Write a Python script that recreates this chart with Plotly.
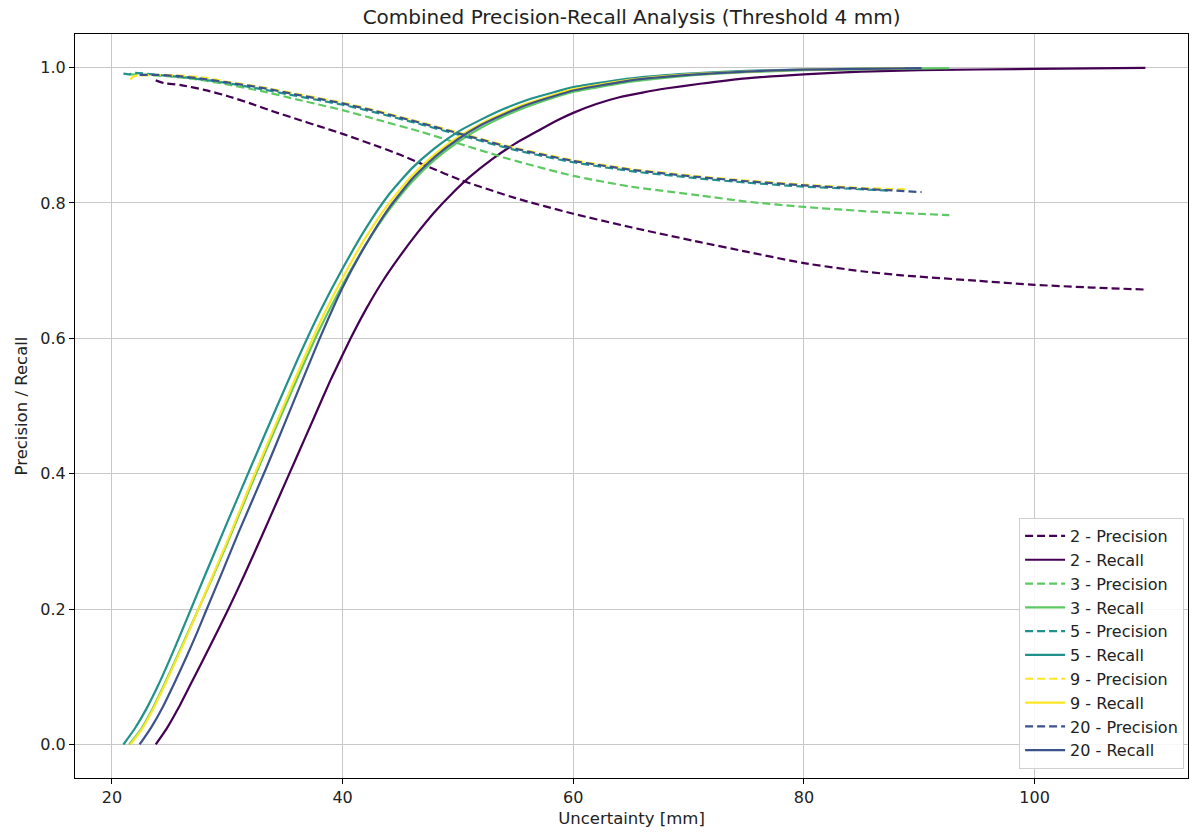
import plotly.graph_objects as go

# ---- data ----
series_names = ["2", "3", "5", "9", "20"]
series_colors = ["#440154", "#5ec962", "#21918c", "#fde725", "#3b528b"]

# Precision curves
prec_x_2 = [23.8, 24.5, 26, 28, 30, 32, 34, 36, 38, 40, 43.3, 45, 47.5, 50.2, 55, 60, 65, 71, 75, 80, 85, 88.5, 95, 100, 105, 109.6]
prec_y_2 = [0.981, 0.977, 0.974, 0.967, 0.958, 0.947, 0.935, 0.924, 0.913, 0.902, 0.882, 0.871, 0.853, 0.834, 0.807, 0.784, 0.764, 0.742, 0.728, 0.711, 0.699, 0.693, 0.685, 0.679, 0.675, 0.672]

prec_x_3 = [21.5, 23, 25, 28, 30, 33, 36, 40, 43, 46.8, 50.2, 55, 60, 65, 71, 75, 80, 86, 92.6]
prec_y_3 = [0.990, 0.989, 0.987, 0.981, 0.975, 0.965, 0.953, 0.937, 0.923, 0.905, 0.887, 0.862, 0.840, 0.824, 0.811, 0.802, 0.794, 0.787, 0.782]

prec_x_5 = [21.0, 21.5, 22, 24, 26, 28, 30, 33, 36, 40, 43, 46.8, 50.2, 55, 60, 65, 71, 75, 80, 84, 87.5]
prec_y_5 = [0.991, 0.990, 0.992, 0.989, 0.986, 0.982, 0.977, 0.968, 0.958, 0.945, 0.933, 0.916, 0.900, 0.878, 0.860, 0.847, 0.836, 0.830, 0.824, 0.821, 0.818]

prec_x_9 = [21.6, 21.8, 22.2, 24, 26, 28, 30, 33, 36, 40, 43, 46.8, 50.2, 55, 60, 65, 71, 75, 80, 85, 88.8]
prec_y_9 = [0.982, 0.986, 0.988, 0.989, 0.988, 0.985, 0.979, 0.971, 0.961, 0.948, 0.936, 0.919, 0.903, 0.881, 0.863, 0.850, 0.839, 0.833, 0.827, 0.822, 0.820]

prec_x_20 = [22.4, 24, 26, 28, 30, 33, 36, 40, 43, 46.8, 50.2, 55, 60, 65, 71, 75, 80, 85, 90.2]
prec_y_20 = [0.989, 0.989, 0.987, 0.983, 0.978, 0.970, 0.960, 0.947, 0.935, 0.918, 0.902, 0.880, 0.862, 0.849, 0.838, 0.832, 0.826, 0.821, 0.816]

# Recall curves
rec_x_2 = [23.8, 24.8, 25.8, 27, 28.5, 30.1, 31.5, 33, 34.5, 36, 37.5, 39, 40.7, 42, 43.5, 45, 46.5, 48, 49.5, 51, 53, 55, 57, 58.5, 60, 62, 64, 66, 68, 71, 75, 80, 85, 90, 100, 109.6]
rec_y_2 = [0.0, 0.025, 0.055, 0.095, 0.145, 0.200, 0.251, 0.308, 0.366, 0.424, 0.482, 0.540, 0.600, 0.642, 0.685, 0.722, 0.756, 0.787, 0.814, 0.838, 0.865, 0.888, 0.907, 0.921, 0.933, 0.946, 0.956, 0.963, 0.969, 0.976, 0.984, 0.990, 0.994, 0.996, 0.998, 0.9995]

rec_x_3 = [21.5, 22.5, 23.5, 24.5, 25.5, 26.5, 27.5, 28.5, 30, 32, 34, 36, 38, 40, 42, 44, 46, 48, 50, 52, 54, 56, 58, 60, 65, 70, 75, 80, 92.6]
rec_y_3 = [0.0, 0.022, 0.052, 0.087, 0.124, 0.162, 0.200, 0.238, 0.297, 0.380, 0.460, 0.538, 0.613, 0.679, 0.738, 0.789, 0.831, 0.864, 0.890, 0.911, 0.928, 0.942, 0.954, 0.964, 0.979, 0.988, 0.993, 0.996, 0.999]

rec_x_5 = [21.0, 22, 23, 24, 25, 26, 27, 28, 30, 32, 34, 36, 38, 40, 42, 44, 46, 48, 50, 52, 54, 56, 58, 60, 65, 70, 75, 80, 87.5]
rec_y_5 = [0.0, 0.024, 0.053, 0.087, 0.125, 0.165, 0.206, 0.247, 0.328, 0.408, 0.487, 0.565, 0.638, 0.703, 0.762, 0.812, 0.851, 0.881, 0.905, 0.923, 0.939, 0.952, 0.962, 0.971, 0.984, 0.991, 0.995, 0.997, 0.999]

rec_x_9 = [21.6, 22.5, 23.5, 24.5, 25.5, 26.5, 27.5, 28.5, 30, 32, 34, 36, 38, 40, 42, 44, 46, 48, 50, 52, 54, 56, 58, 60, 65, 70, 75, 80, 88.8]
rec_y_9 = [0.0, 0.020, 0.050, 0.085, 0.122, 0.160, 0.200, 0.240, 0.300, 0.384, 0.465, 0.545, 0.622, 0.689, 0.749, 0.799, 0.840, 0.872, 0.897, 0.917, 0.933, 0.947, 0.958, 0.968, 0.982, 0.990, 0.994, 0.997, 0.999]

rec_x_20 = [22.4, 23.4, 24.4, 25.4, 26.4, 27.4, 28.2, 29.5, 31, 33.3, 35, 37.9, 40, 42, 44, 46, 48, 50, 52, 54, 56, 58, 60, 65, 70, 75, 80, 90.2]
rec_y_20 = [0.0, 0.025, 0.055, 0.090, 0.127, 0.166, 0.199, 0.252, 0.314, 0.405, 0.475, 0.595, 0.675, 0.738, 0.792, 0.835, 0.868, 0.894, 0.915, 0.931, 0.945, 0.956, 0.966, 0.981, 0.989, 0.994, 0.997, 0.999]

prec_x = [prec_x_2, prec_x_3, prec_x_5, prec_x_9, prec_x_20]
prec_y = [prec_y_2, prec_y_3, prec_y_5, prec_y_9, prec_y_20]
rec_x = [rec_x_2, rec_x_3, rec_x_5, rec_x_9, rec_x_20]
rec_y = [rec_y_2, rec_y_3, rec_y_5, rec_y_9, rec_y_20]

x_ticks = [20, 40, 60, 80, 100]
y_ticks = [0.0, 0.2, 0.4, 0.6, 0.8, 1.0]
y_tick_text = ["0.0", "0.2", "0.4", "0.6", "0.8", "1.0"]

FONT = "DejaVu Sans"

fig = go.Figure()
for i, name in enumerate(series_names):
    c = series_colors[i]
    fig.add_trace(go.Scatter(
        x=prec_x[i], y=prec_y[i], mode="lines", name=f"{name} - Precision",
        line=dict(color=c, width=2.2, dash="8px,4px", shape="spline", smoothing=0.5),
    ))
    fig.add_trace(go.Scatter(
        x=rec_x[i], y=rec_y[i], mode="lines", name=f"{name} - Recall",
        line=dict(color=c, width=2.2, shape="spline", smoothing=0.5),
    ))

fig.update_layout(
    width=1195, height=832,
    margin=dict(l=75, r=7, t=34, b=54),
    paper_bgcolor="white", plot_bgcolor="white",
    font=dict(family=FONT, size=16, color="#222"),
    title=dict(text="Combined Precision-Recall Analysis (Threshold 4 mm)",
               x=0.5285, xanchor="center",
               y=1 - 17 / 832, yanchor="middle",
               font=dict(family=FONT, size=20, color="#222")),
    legend=dict(
        x=0.9965, xanchor="right", y=0.012, yanchor="bottom",
        bgcolor="rgba(255,255,255,0.85)", bordercolor="#d0d0d0", borderwidth=1,
        font=dict(family=FONT, size=16, color="#222"),
        itemwidth=40, tracegroupgap=0,
    ),
    showlegend=True,
)
fig.update_xaxes(
    range=[16.8, 113.3], tickvals=x_ticks, ticktext=[str(v) for v in x_ticks],
    tickfont=dict(family=FONT, size=16, color="#222"),
    showgrid=True, gridcolor="#c8c8c8", gridwidth=1,
    showline=True, linecolor="black", linewidth=1, mirror=True,
    ticks="outside", ticklen=5, tickcolor="black",
    title=dict(text="Uncertainty [mm]", standoff=6, font=dict(family=FONT, size=16.5)),
    zeroline=False,
)
fig.update_yaxes(
    range=[-0.0495, 1.0495], tickvals=y_ticks, ticktext=y_tick_text,
    tickfont=dict(family=FONT, size=16, color="#222"),
    showgrid=True, gridcolor="#c8c8c8", gridwidth=1,
    showline=True, linecolor="black", linewidth=1, mirror=True,
    ticks="outside", ticklen=5, tickcolor="black",
    title=dict(text="Precision / Recall", standoff=8, font=dict(family=FONT, size=16.5)),
    zeroline=False,
)

fig.write_html("out.html")
